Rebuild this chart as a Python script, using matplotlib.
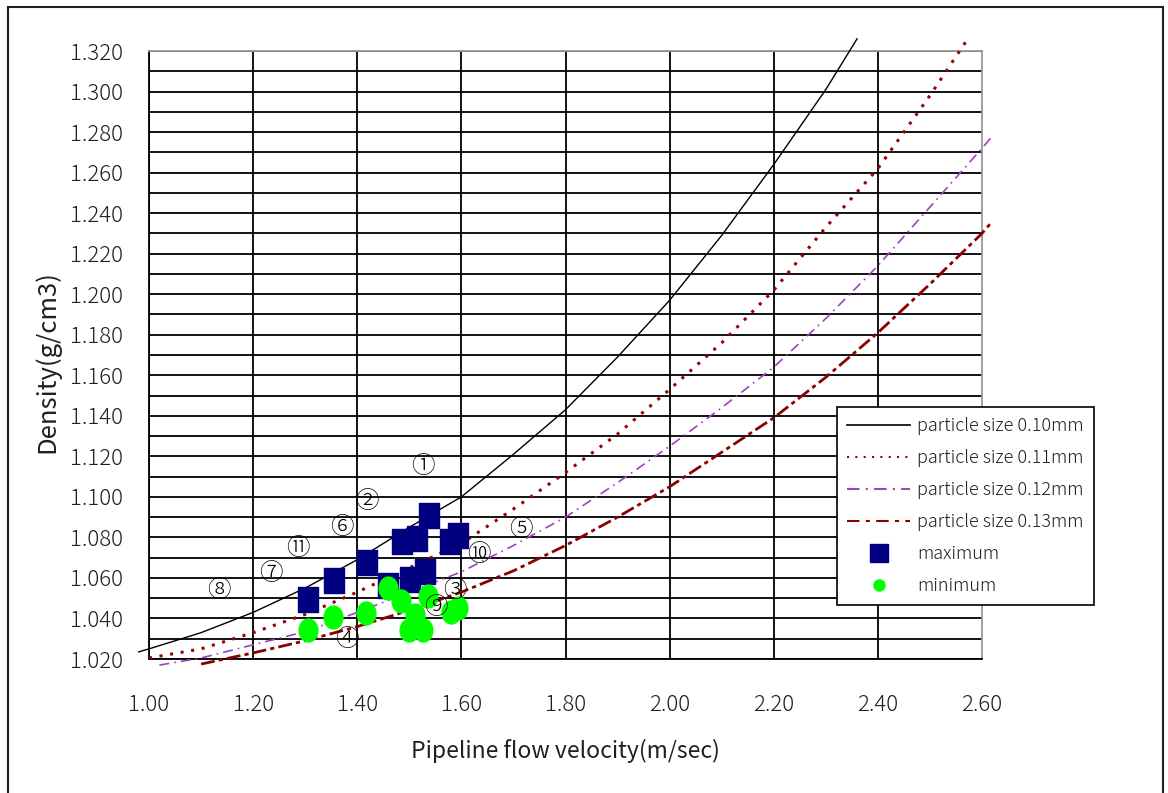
import matplotlib
matplotlib.use('Agg')
import matplotlib.pyplot as plt
from matplotlib.lines import Line2D
from matplotlib.path import Path
from matplotlib.patches import Rectangle
from matplotlib.ticker import MultipleLocator, FormatStrFormatter

plt.rcParams['font.family'] = ['Noto Sans CJK JP', 'DejaVu Sans']
plt.rcParams['font.weight'] = 'light'

# ---------------- data ----------------
x_010 = [0.98, 1.0, 1.1, 1.2, 1.3, 1.4, 1.5, 1.6, 1.7, 1.8, 1.9, 2.0, 2.1, 2.2, 2.3, 2.36]
y_010 = [1.0235, 1.025, 1.033, 1.043, 1.055, 1.069, 1.085, 1.100, 1.121, 1.143, 1.169,
         1.197, 1.229, 1.264, 1.301, 1.326]

x_011 = [1.0, 1.1, 1.2, 1.3, 1.4, 1.5, 1.6, 1.7, 1.8, 1.9, 2.0, 2.1, 2.2, 2.3, 2.4, 2.5, 2.57]
y_011 = [1.0205, 1.025, 1.033, 1.042, 1.053, 1.065, 1.077, 1.094, 1.112, 1.131, 1.153,
         1.176, 1.202, 1.233, 1.262, 1.298, 1.325]

x_012 = [1.02, 1.1, 1.2, 1.3, 1.4, 1.5, 1.6, 1.7, 1.8, 1.9, 2.0, 2.1, 2.2, 2.3, 2.4, 2.5, 2.6, 2.62]
y_012 = [1.017, 1.0205, 1.027, 1.0335, 1.043, 1.053, 1.063, 1.076, 1.090, 1.107, 1.125,
         1.144, 1.164, 1.188, 1.214, 1.243, 1.272, 1.278]

x_013 = [1.1, 1.2, 1.3, 1.4, 1.5, 1.6, 1.7, 1.8, 1.9, 2.0, 2.1, 2.2, 2.3, 2.4, 2.5, 2.6, 2.62]
y_013 = [1.0175, 1.023, 1.029, 1.036, 1.044, 1.053, 1.0635, 1.076, 1.090, 1.105, 1.122,
         1.139, 1.159, 1.181, 1.205, 1.230, 1.236]

max_x = [1.306, 1.355, 1.419, 1.486, 1.514, 1.538, 1.578, 1.593, 1.460, 1.501, 1.530]
max_y = [1.0496, 1.0591, 1.0677, 1.0781, 1.0799, 1.0909, 1.0781, 1.0810, 1.0565, 1.0593, 1.0636]

min_x = [1.306, 1.353, 1.417, 1.459, 1.484, 1.535, 1.511, 1.500, 1.526, 1.581, 1.594]
min_y = [1.0343, 1.0409, 1.0428, 1.0549, 1.0488, 1.0511, 1.0417, 1.0343, 1.0343, 1.0433, 1.0450]

point_labels = ['①', '②', '⑥', '⑪', '⑦', '⑧', '⑤', '⑩', '③', '⑨', '④']
label_x = [1.526, 1.419, 1.371, 1.286, 1.234, 1.134, 1.715, 1.634, 1.588, 1.551, 1.380]
label_y = [1.1152, 1.0975, 1.0847, 1.0743, 1.0624, 1.0536, 1.0837, 1.0718, 1.054, 1.0452, 1.0295]

series_names = ['particle size 0.10mm', 'particle size 0.11mm',
                'particle size 0.12mm', 'particle size 0.13mm', 'maximum', 'minimum']

x_ticks = [1.00, 1.20, 1.40, 1.60, 1.80, 2.00, 2.20, 2.40, 2.60]

# ---------------- figure ----------------
fig = plt.figure(figsize=(11.68, 7.93), dpi=100)
ax = fig.add_axes([149/1168, 1 - 659/793, (982-149)/1168, (659-51)/793])

# outer border
fig.patches.append(Rectangle((8/1168, -0.05), (1163-8)/1168, 1.05 - 7/793,
                             transform=fig.transFigure, fill=False,
                             edgecolor='#202020', linewidth=1.5))

c_black = '#000000'
c_dot = '#990000'
c_purple = '#A040C0'
c_dd = '#8B0000'

ax.plot(x_010, y_010, color=c_black, lw=1.0, clip_on=False, zorder=3)
ax.plot(x_011, y_011, color=c_dot, lw=2.2, linestyle=(0, (1, 2.5)), clip_on=False, zorder=3)
ax.plot(x_012, y_012, color=c_purple, lw=1.2, linestyle=(0, (6, 3, 1, 3)), clip_on=False, zorder=3)
ax.plot(x_013, y_013, color=c_dd, lw=2.0, linestyle=(0, (5, 1.5, 1.5, 1.5)), clip_on=False, zorder=3)

# tall rectangle and ellipse markers (as in the reference)
rect = Path([(-0.40, -0.5), (0.40, -0.5), (0.40, 0.5), (-0.40, 0.5), (-0.40, -0.5)],
            [Path.MOVETO, Path.LINETO, Path.LINETO, Path.LINETO, Path.CLOSEPOLY])
circ = Path.unit_circle()
ell = Path(circ.vertices * [0.82, 1.0], circ.codes)

ax.plot(max_x, max_y, linestyle='none', marker=rect, markersize=18,
        markerfacecolor='#000080', markeredgecolor='#000080', zorder=4)
ax.plot(min_x, min_y, linestyle='none', marker=ell, markersize=16.5,
        markerfacecolor='#00FF00', markeredgecolor='#00FF00', zorder=5)

for t, lx, ly in zip(point_labels, label_x, label_y):
    ax.text(lx, ly, t, ha='center', va='center', fontsize=17, color='black', zorder=6)

ax.set_xlim(1.0, 2.6)
ax.set_ylim(1.02, 1.32)
ax.set_xticks(x_ticks)
ax.xaxis.set_major_formatter(FormatStrFormatter('%.2f'))
ax.yaxis.set_major_locator(MultipleLocator(0.02))
ax.yaxis.set_minor_locator(MultipleLocator(0.01))
ax.yaxis.set_major_formatter(FormatStrFormatter('%.3f'))

ax.tick_params(axis='both', which='both', length=0, labelsize=16, colors='#202020')
ax.tick_params(axis='x', pad=25)
ax.tick_params(axis='y', pad=19)

ax.grid(True, which='major', axis='both', color='black', lw=1.3, zorder=1)
ax.grid(True, which='minor', axis='y', color='black', lw=1.3, zorder=1)
ax.set_axisbelow(True)

for sp in ['left', 'bottom']:
    ax.spines[sp].set_color('black')
    ax.spines[sp].set_linewidth(1.3)
for sp in ['top', 'right']:
    ax.spines[sp].set_color('#999999')
    ax.spines[sp].set_linewidth(1.3)

fig.canvas.draw()
ylines = ax.get_ygridlines()
if len(ylines):
    ylines[-1].set_visible(False)
xlines = ax.get_xgridlines()
if len(xlines):
    xlines[-1].set_visible(False)

ax.set_xlabel('Pipeline flow velocity(m/sec)', fontsize=16.5, color='#202020', labelpad=17)
ax.set_ylabel('Density(g/cm3)', fontsize=18.5, color='#202020', labelpad=7)
ax.yaxis.label.set_y(0.49)

handles = [
    Line2D([], [], color=c_black, lw=1.2),
    Line2D([], [], color=c_dot, lw=1.5, linestyle=(0, (1, 3))),
    Line2D([], [], color=c_purple, lw=1.5, linestyle=(0, (6, 3, 1, 3))),
    Line2D([], [], color=c_dd, lw=1.5, linestyle=(0, (6, 3, 2, 3))),
    Line2D([], [], linestyle='none', marker='s', markersize=12.5,
           markerfacecolor='#000080', markeredgecolor='#000080'),
    Line2D([], [], linestyle='none', marker='o', markersize=8,
           markerfacecolor='#00FF00', markeredgecolor='#00FF00'),
]
leg = fig.legend(handles, series_names, loc='upper left',
                 bbox_to_anchor=(837/1168, 1 - 407/793), fontsize=13,
                 frameon=True, fancybox=False, edgecolor='black', framealpha=1,
                 handlelength=3.5, handletextpad=0.4, labelspacing=0.78,
                 borderpad=0.55, borderaxespad=0)
leg.get_frame().set_linewidth(1.2)
for t in leg.get_texts():
    t.set_color('#202020')

fig.savefig('out.png', dpi=100)
